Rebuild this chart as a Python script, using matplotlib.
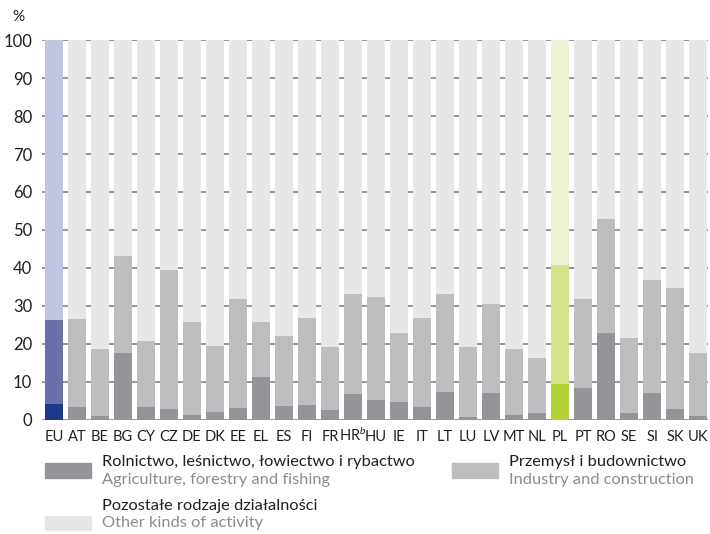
import matplotlib
matplotlib.use("Agg")
import matplotlib.pyplot as plt
from matplotlib.patches import Rectangle

plt.rcParams['font.family'] = ['Lato', 'DejaVu Sans']
plt.rcParams['mathtext.fontset'] = 'custom'
plt.rcParams['mathtext.it'] = 'Lato:italic'
plt.rcParams['mathtext.rm'] = 'Lato'

countries = ['EU', 'AT', 'BE', 'BG', 'CY', 'CZ', 'DE', 'DK', 'EE', 'EL', 'ES', 'FI', 'FR', 'HR$^{b}$', 'HU',
             'IE', 'IT', 'LT', 'LU', 'LV', 'MT', 'NL', 'PL', 'PT', 'RO', 'SE', 'SI', 'SK', 'UK']
# rolnictwo (agriculture)
agri = [4.2, 3.4, 1.1, 17.7, 3.4, 2.9, 1.3, 2.1, 3.2, 11.4, 3.7, 4.0, 2.6, 6.9, 5.3,
        4.8, 3.4, 7.4, 0.8, 7.1, 1.3, 1.9, 9.5, 8.5, 23.0, 1.9, 7.1, 2.9, 1.1]
# rolnictwo + przemysl (suma)
total = [26.2, 26.5, 18.8, 43.2, 20.9, 39.5, 25.7, 19.6, 31.8, 25.7, 22.2, 26.8, 19.3, 33.2, 32.4,
         23.0, 26.8, 33.2, 19.3, 30.5, 18.8, 16.4, 40.8, 31.8, 52.9, 21.7, 36.8, 34.7, 17.7]
industry = [t - a for t, a in zip(total, agri)]
other = [100 - t for t in total]

grey = ['#939598', '#bcbec0', '#e6e7e8']
eu_col = ['#1b3a8c', '#6a6fa8', '#c1c5e1']
pl_col = ['#b3d235', '#d4e48a', '#edf4d6']

def colours(level):
    c = []
    for k in countries:
        if k == 'EU':
            c.append(eu_col[level])
        elif k == 'PL':
            c.append(pl_col[level])
        else:
            c.append(grey[level])
    return c

fig = plt.figure(figsize=(7.1, 5.34), dpi=100)
W, H = 710, 534
ax = fig.add_axes([42 / W, (H - 420) / H, 666 / W, 380 / H])

x = list(range(len(countries)))
ax.bar(x, agri, width=0.76, color=colours(0), zorder=2)
ax.bar(x, industry, bottom=agri, width=0.76, color=colours(1), zorder=2)
ax.bar(x, other, bottom=total, width=0.76, color=colours(2), zorder=2)

ax.set_ylim(0, 100)
ax.set_xlim(-0.52, len(countries) - 0.57)
ax.set_yticks(range(0, 101, 10))
ax.yaxis.grid(True, color='#939598', linewidth=1.4, zorder=0)
ax.set_axisbelow(True)
for s in ax.spines.values():
    s.set_visible(False)
ax.tick_params(axis='y', length=0, labelsize=12, colors='#231f20', pad=7)
ax.tick_params(axis='x', length=0, labelsize=10.5, colors='#231f20', pad=15)
ax.set_xticks(x)
ax.set_xticklabels(countries)
# wszystkie etykiety na jednej linii bazowej (HR ma indeks gorny)
for lab in ax.get_xticklabels():
    lab.set_verticalalignment('baseline')

fig.text(12 / W, 1 - 17 / H, '%', fontsize=11, color='#231f20', va='center')

# legenda
def square(x0, y0, w, h, c):
    fig.add_artist(Rectangle((x0 / W, 1 - (y0 + h) / H), w / W, h / H, color=c, transform=fig.transFigure))

square(45, 463, 46, 15, grey[0])
square(452, 463, 46, 15, grey[1])
square(45, 516, 46, 14, grey[2])
fs = 11.8
fig.text(102 / W, 1 - 462 / H, 'Rolnictwo, leśnictwo, łowiectwo i rybactwo', fontsize=fs, color='#231f20', va='center')
fig.text(102 / W, 1 - 480 / H, 'Agriculture, forestry and fishing', fontsize=fs, color='#8a8c8e', va='center')
fig.text(509 / W, 1 - 462 / H, 'Przemysł i budownictwo', fontsize=fs, color='#231f20', va='center')
fig.text(509 / W, 1 - 480 / H, 'Industry and construction', fontsize=fs, color='#8a8c8e', va='center')
fig.text(102 / W, 1 - 506 / H, 'Pozostałe rodzaje działalności', fontsize=fs, color='#231f20', va='center')
fig.text(102 / W, 1 - 523 / H, 'Other kinds of activity', fontsize=fs, color='#8a8c8e', va='center')

fig.savefig('out.png', dpi=100)
